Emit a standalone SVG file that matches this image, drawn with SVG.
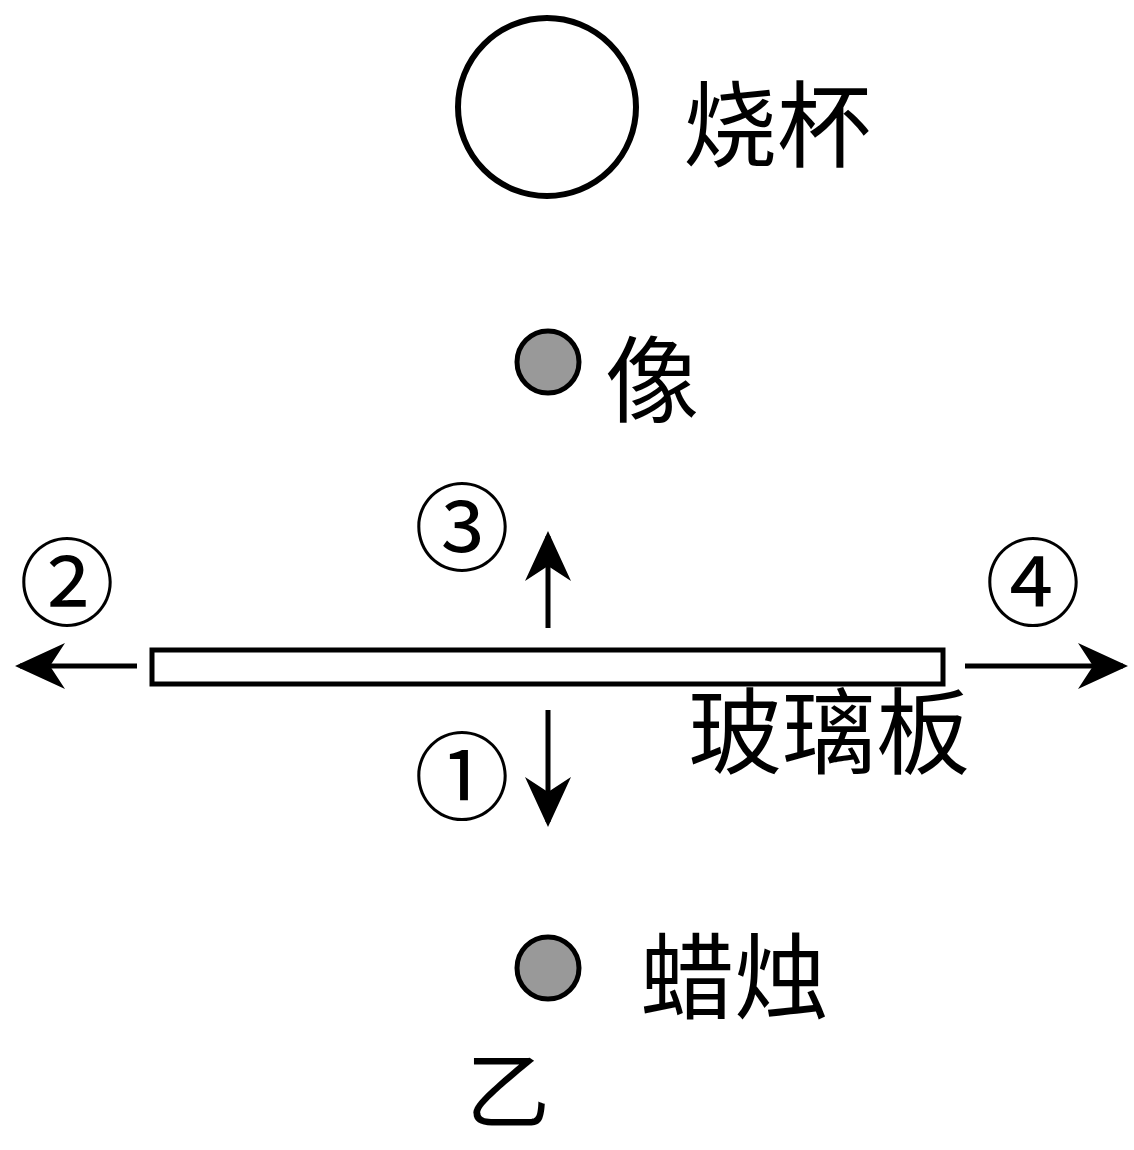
<svg xmlns="http://www.w3.org/2000/svg" width="1134" height="1150" viewBox="0 0 1134 1150">
<style>
.t{font-family:"Noto Sans CJK SC",sans-serif;font-size:94px;fill:#000}
.n{font-family:"Noto Sans CJK SC","DejaVu Serif",serif;font-size:96px;fill:#000;text-anchor:middle}
.l{stroke:#000;stroke-width:5;fill:none}
</style>
<defs>
<marker id="b" viewBox="0 0 10 10" refX="9" refY="5" markerWidth="50" markerHeight="46" markerUnits="userSpaceOnUse" orient="auto" preserveAspectRatio="none"><path d="M0,0 L10,5 L0,10 L3,5 Z" fill="#000"/></marker></defs>
<rect width="1134" height="1150" fill="#fff"/>
<g id="beaker"><circle cx="547" cy="107" r="89" fill="#fff" stroke="#000" stroke-width="6"/><text class="t" x="683" y="160">烧杯</text></g>
<g id="image"><circle cx="548" cy="362" r="31" fill="#999" stroke="#000" stroke-width="5"/><text class="t" x="605" y="415">像</text></g>
<g id="glass"><rect x="152" y="650" width="791" height="34" fill="#fff" stroke="#000" stroke-width="5"/><text class="t" x="688" y="767">玻璃板</text></g>
<g id="candle"><circle cx="548" cy="968" r="31" fill="#999" stroke="#000" stroke-width="5"/><text class="t" x="640" y="1012">蜡烛</text><text class="t" x="466" y="1122" style="font-size:84px">乙</text></g>
<g id="labels"><text class="n" x="462" y="563">③</text><text class="n" x="67" y="618">②</text><text class="n" x="1033" y="618">④</text><text class="n" x="462" y="812">①</text></g>
<g id="connectors" class="l">
<line x1="548" y1="628" x2="548" y2="536" marker-end="url(#b)"/>
<line x1="548" y1="710" x2="548" y2="822" marker-end="url(#b)"/>
<line x1="137" y1="666" x2="20" y2="666" marker-end="url(#b)"/>
<line x1="965" y1="666" x2="1123" y2="666" marker-end="url(#b)"/>
</g>
</svg>
